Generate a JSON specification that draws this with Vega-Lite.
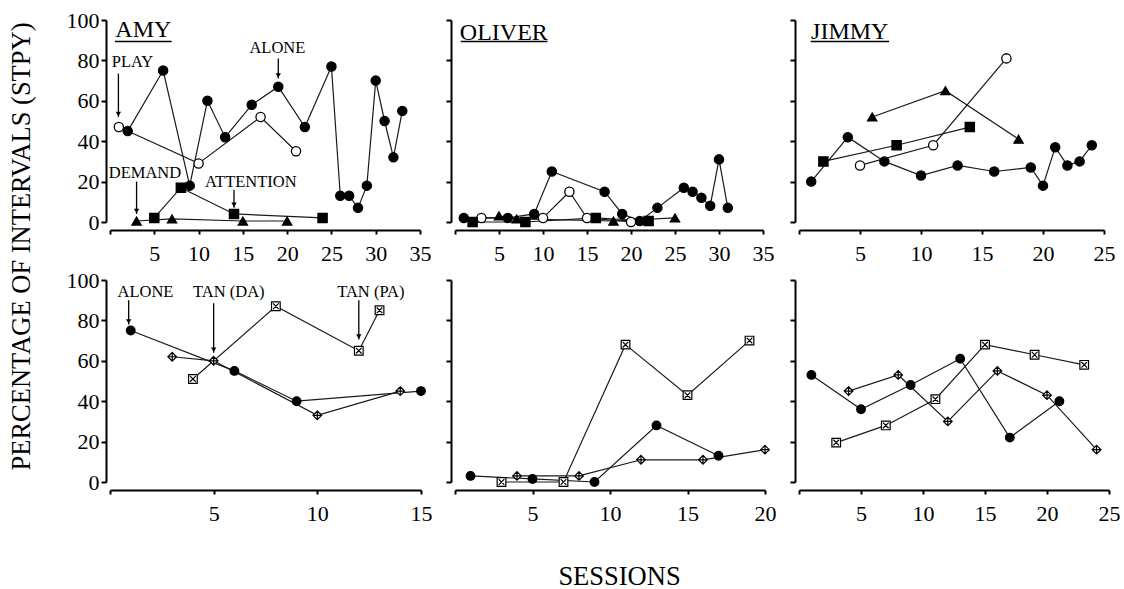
{
  "$schema": "https://vega.github.io/schema/vega-lite/v6.json",
  "padding": {"left": 7, "top": 9, "right": 0, "bottom": 0},
  "background": "white",
  "config": {
    "view": {"stroke": null},
    "font": "Liberation Serif",
    "axis": {"domainColor": "black", "domainWidth": 2, "tickColor": "black", "tickWidth": 2, "labelColor": "black", "labelFont": "Liberation Serif", "labelFontSize": 22, "grid": false, "titleFont": "Liberation Serif", "titleFontWeight": "normal", "titleColor": "black", "titleFontSize": 26.5, "labelFlush": false},
    "axisX": {"offset": 8, "tickSize": 4, "labelPadding": 9},
    "axisY": {"offset": 4, "tickSize": 5, "labelPadding": 2},
    "text": {"font": "Liberation Serif", "color": "black"}
  },
  "datasets": {
    "obs": [
      {"panel":"amy_top","cond":"alone","session":2,"pct":45},
      {"panel":"amy_top","cond":"alone","session":6,"pct":75},
      {"panel":"amy_top","cond":"alone","session":9,"pct":18},
      {"panel":"amy_top","cond":"alone","session":11,"pct":60},
      {"panel":"amy_top","cond":"alone","session":13,"pct":42},
      {"panel":"amy_top","cond":"alone","session":16,"pct":58},
      {"panel":"amy_top","cond":"alone","session":19,"pct":67},
      {"panel":"amy_top","cond":"alone","session":22,"pct":47},
      {"panel":"amy_top","cond":"alone","session":25,"pct":77},
      {"panel":"amy_top","cond":"alone","session":26,"pct":13},
      {"panel":"amy_top","cond":"alone","session":27,"pct":13},
      {"panel":"amy_top","cond":"alone","session":28,"pct":7},
      {"panel":"amy_top","cond":"alone","session":29,"pct":18},
      {"panel":"amy_top","cond":"alone","session":30,"pct":70},
      {"panel":"amy_top","cond":"alone","session":31,"pct":50},
      {"panel":"amy_top","cond":"alone","session":32,"pct":32},
      {"panel":"amy_top","cond":"alone","session":33,"pct":55},
      {"panel":"amy_top","cond":"play","session":1,"pct":47},
      {"panel":"amy_top","cond":"play","session":10,"pct":29},
      {"panel":"amy_top","cond":"play","session":17,"pct":52},
      {"panel":"amy_top","cond":"play","session":21,"pct":35},
      {"panel":"amy_top","cond":"demand","session":3,"pct":0.5},
      {"panel":"amy_top","cond":"demand","session":7,"pct":1.5},
      {"panel":"amy_top","cond":"demand","session":15,"pct":0.5},
      {"panel":"amy_top","cond":"demand","session":20,"pct":0.5},
      {"panel":"amy_top","cond":"attention","session":5,"pct":2},
      {"panel":"amy_top","cond":"attention","session":8,"pct":17},
      {"panel":"amy_top","cond":"attention","session":14,"pct":4},
      {"panel":"amy_top","cond":"attention","session":24,"pct":2},

      {"panel":"oliver_top","cond":"alone","session":1,"pct":2},
      {"panel":"oliver_top","cond":"alone","session":6,"pct":2},
      {"panel":"oliver_top","cond":"alone","session":9,"pct":4},
      {"panel":"oliver_top","cond":"alone","session":11,"pct":25},
      {"panel":"oliver_top","cond":"alone","session":17,"pct":15},
      {"panel":"oliver_top","cond":"alone","session":19,"pct":4},
      {"panel":"oliver_top","cond":"alone","session":21,"pct":0.5},
      {"panel":"oliver_top","cond":"alone","session":23,"pct":7},
      {"panel":"oliver_top","cond":"alone","session":26,"pct":17},
      {"panel":"oliver_top","cond":"alone","session":27,"pct":15},
      {"panel":"oliver_top","cond":"alone","session":28,"pct":12},
      {"panel":"oliver_top","cond":"alone","session":29,"pct":8},
      {"panel":"oliver_top","cond":"alone","session":30,"pct":31},
      {"panel":"oliver_top","cond":"alone","session":31,"pct":7},
      {"panel":"oliver_top","cond":"play","session":3,"pct":2},
      {"panel":"oliver_top","cond":"play","session":10,"pct":2},
      {"panel":"oliver_top","cond":"play","session":13,"pct":15},
      {"panel":"oliver_top","cond":"play","session":15,"pct":2},
      {"panel":"oliver_top","cond":"play","session":20,"pct":0},
      {"panel":"oliver_top","cond":"demand","session":5,"pct":3},
      {"panel":"oliver_top","cond":"demand","session":7,"pct":1.5},
      {"panel":"oliver_top","cond":"demand","session":18,"pct":0.5},
      {"panel":"oliver_top","cond":"demand","session":25,"pct":2},
      {"panel":"oliver_top","cond":"attention","session":2,"pct":0},
      {"panel":"oliver_top","cond":"attention","session":8,"pct":0},
      {"panel":"oliver_top","cond":"attention","session":16,"pct":2},
      {"panel":"oliver_top","cond":"attention","session":22,"pct":0.5},

      {"panel":"jimmy_top","cond":"alone","session":1,"pct":20},
      {"panel":"jimmy_top","cond":"alone","session":4,"pct":42},
      {"panel":"jimmy_top","cond":"alone","session":7,"pct":30},
      {"panel":"jimmy_top","cond":"alone","session":10,"pct":23},
      {"panel":"jimmy_top","cond":"alone","session":13,"pct":28},
      {"panel":"jimmy_top","cond":"alone","session":16,"pct":25},
      {"panel":"jimmy_top","cond":"alone","session":19,"pct":27},
      {"panel":"jimmy_top","cond":"alone","session":20,"pct":18},
      {"panel":"jimmy_top","cond":"alone","session":21,"pct":37},
      {"panel":"jimmy_top","cond":"alone","session":22,"pct":28},
      {"panel":"jimmy_top","cond":"alone","session":23,"pct":30},
      {"panel":"jimmy_top","cond":"alone","session":24,"pct":38},
      {"panel":"jimmy_top","cond":"play","session":5,"pct":28},
      {"panel":"jimmy_top","cond":"play","session":11,"pct":38},
      {"panel":"jimmy_top","cond":"play","session":17,"pct":81},
      {"panel":"jimmy_top","cond":"demand","session":6,"pct":52},
      {"panel":"jimmy_top","cond":"demand","session":12,"pct":65},
      {"panel":"jimmy_top","cond":"demand","session":18,"pct":41},
      {"panel":"jimmy_top","cond":"attention","session":2,"pct":30},
      {"panel":"jimmy_top","cond":"attention","session":8,"pct":38},
      {"panel":"jimmy_top","cond":"attention","session":14,"pct":47},

      {"panel":"amy_bot","cond":"alone","session":1,"pct":75},
      {"panel":"amy_bot","cond":"alone","session":6,"pct":55},
      {"panel":"amy_bot","cond":"alone","session":9,"pct":40},
      {"panel":"amy_bot","cond":"alone","session":15,"pct":45},
      {"panel":"amy_bot","cond":"tan_da","session":3,"pct":62},
      {"panel":"amy_bot","cond":"tan_da","session":5,"pct":60},
      {"panel":"amy_bot","cond":"tan_da","session":10,"pct":33},
      {"panel":"amy_bot","cond":"tan_da","session":14,"pct":45},
      {"panel":"amy_bot","cond":"tan_pa","session":4,"pct":51},
      {"panel":"amy_bot","cond":"tan_pa","session":8,"pct":87},
      {"panel":"amy_bot","cond":"tan_pa","session":12,"pct":65},
      {"panel":"amy_bot","cond":"tan_pa","session":13,"pct":85},

      {"panel":"oliver_bot","cond":"alone","session":1,"pct":3},
      {"panel":"oliver_bot","cond":"alone","session":5,"pct":1.5},
      {"panel":"oliver_bot","cond":"alone","session":9,"pct":0},
      {"panel":"oliver_bot","cond":"alone","session":13,"pct":28},
      {"panel":"oliver_bot","cond":"alone","session":17,"pct":13},
      {"panel":"oliver_bot","cond":"tan_da","session":4,"pct":3},
      {"panel":"oliver_bot","cond":"tan_da","session":8,"pct":3},
      {"panel":"oliver_bot","cond":"tan_da","session":12,"pct":11},
      {"panel":"oliver_bot","cond":"tan_da","session":16,"pct":11},
      {"panel":"oliver_bot","cond":"tan_da","session":20,"pct":16},
      {"panel":"oliver_bot","cond":"tan_pa","session":3,"pct":0},
      {"panel":"oliver_bot","cond":"tan_pa","session":7,"pct":0},
      {"panel":"oliver_bot","cond":"tan_pa","session":11,"pct":68},
      {"panel":"oliver_bot","cond":"tan_pa","session":15,"pct":43},
      {"panel":"oliver_bot","cond":"tan_pa","session":19,"pct":70},

      {"panel":"jimmy_bot","cond":"alone","session":1,"pct":53},
      {"panel":"jimmy_bot","cond":"alone","session":5,"pct":36},
      {"panel":"jimmy_bot","cond":"alone","session":9,"pct":48},
      {"panel":"jimmy_bot","cond":"alone","session":13,"pct":61},
      {"panel":"jimmy_bot","cond":"alone","session":17,"pct":22},
      {"panel":"jimmy_bot","cond":"alone","session":21,"pct":40},
      {"panel":"jimmy_bot","cond":"tan_da","session":4,"pct":45},
      {"panel":"jimmy_bot","cond":"tan_da","session":8,"pct":53},
      {"panel":"jimmy_bot","cond":"tan_da","session":12,"pct":30},
      {"panel":"jimmy_bot","cond":"tan_da","session":16,"pct":55},
      {"panel":"jimmy_bot","cond":"tan_da","session":20,"pct":43},
      {"panel":"jimmy_bot","cond":"tan_da","session":24,"pct":16},
      {"panel":"jimmy_bot","cond":"tan_pa","session":3,"pct":19.5},
      {"panel":"jimmy_bot","cond":"tan_pa","session":7,"pct":28},
      {"panel":"jimmy_bot","cond":"tan_pa","session":11,"pct":41},
      {"panel":"jimmy_bot","cond":"tan_pa","session":15,"pct":68},
      {"panel":"jimmy_bot","cond":"tan_pa","session":19,"pct":63},
      {"panel":"jimmy_bot","cond":"tan_pa","session":23,"pct":58}
    ],
    "notes": [
      {"panel":"amy_top","text":"PLAY","session":2.54,"pct":79},
      {"panel":"amy_top","text":"ALONE","session":18.9,"pct":86},
      {"panel":"amy_top","text":"DEMAND","session":3.95,"pct":24.5},
      {"panel":"amy_top","text":"ATTENTION","session":15.9,"pct":19.6},
      {"panel":"amy_bot","text":"ALONE","session":1.71,"pct":94},
      {"panel":"amy_bot","text":"TAN (DA)","session":5.73,"pct":94},
      {"panel":"amy_bot","text":"TAN (PA)","session":12.58,"pct":94}
    ],
    "names": [
      {"panel":"amy_top","text":"AMY","session":3.76,"pct":95},
      {"panel":"oliver_top","text":"OLIVER","session":5.55,"pct":93.7},
      {"panel":"jimmy_top","text":"JIMMY","session":4.16,"pct":94.2}
    ],
    "underlines": [
      {"panel":"amy_top","session":0.56,"session_end":6.96,"pct":89.3},
      {"panel":"oliver_top","session":0.65,"session_end":10.5,"pct":89.3},
      {"panel":"jimmy_top","session":0.96,"session_end":7.38,"pct":89.3}
    ],
    "arrows": [
      {"panel":"amy_top","session":0.95,"pct":52,"top":73.5},
      {"panel":"amy_top","session":19,"pct":71,"top":81},
      {"panel":"amy_top","session":3,"pct":4,"top":20},
      {"panel":"amy_top","session":14,"pct":7,"top":16},
      {"panel":"amy_bot","session":0.9,"pct":78,"top":90},
      {"panel":"amy_bot","session":5,"pct":64,"top":88.5},
      {"panel":"amy_bot","session":12,"pct":70.5,"top":90}
    ]
  },
  "columns": 3,
  "spacing": {"row": 58, "column": 34},
  "bounds": "flush",
  "align": "each",
  "concat": [
    {
      "width": 310, "height": 202,
      "encoding": {
        "x": {"field": "session", "type": "quantitative", "scale": {"domain": [0, 35], "nice": false, "zero": false}, "axis": {"values": [0,5,10,15,20,25,30,35], "labelExpr": "datum.value == 0 ? '' : datum.label"}, "title": null},
        "y": {"field": "pct", "type": "quantitative", "scale": {"domain": [0, 100], "nice": false}, "axis": {"values": [0,20,40,60,80,100], "titleX": -85, "titleY": 226, "titleBaseline": "middle", "titleAngle": -90, "titleAlign": "center"}, "title": "PERCENTAGE OF INTERVALS (STPY)"}
      },
      "layer": [
        {"data": {"name": "obs"}, "transform": [{"filter": "datum.panel == 'amy_top'"}], "mark": {"type": "line", "color": "#1a1a1a", "strokeWidth": 1.2}, "encoding": {"detail": {"field": "cond"}}},
        {"data": {"name": "obs"}, "transform": [{"filter": "datum.panel == 'amy_top'"}], "mark": {"type": "point", "filled": true, "stroke": "black", "strokeWidth": 1.3, "opacity": 1, "size": 85},
         "encoding": {
           "shape": {"field": "cond", "scale": {"domain": ["alone","play","demand","attention","tan_da","tan_pa"], "range": ["circle","circle","triangle-up","square","M0,-1L1,0L0,1L-1,0Z M0,-1L0,1 M-1,0L1,0","M-1,-1H1V1H-1Z M-0.65,-0.65L0.65,0.65 M0.65,-0.65L-0.65,0.65"]}, "legend": null},
           "fill": {"field": "cond", "scale": {"domain": ["alone","play","demand","attention","tan_da","tan_pa"], "range": ["black","white","black","black","white","white"]}, "legend": null}
         }},
        {"data": {"name": "arrows"}, "transform": [{"filter": "datum.panel == 'amy_top'"}], "mark": {"type": "rule", "color": "black", "strokeWidth": 1.3}, "encoding": {"y2": {"field": "top"}}},
        {"data": {"name": "arrows"}, "transform": [{"filter": "datum.panel == 'amy_top'"}], "mark": {"type": "point", "shape": "triangle-down", "filled": true, "color": "black", "opacity": 1, "size": 28, "yOffset": -3}},
        {"data": {"name": "notes"}, "transform": [{"filter": "datum.panel == 'amy_top'"}], "mark": {"type": "text", "fontSize": 16.5, "baseline": "middle"}, "encoding": {"text": {"field": "text"}}},
        {"data": {"name": "names"}, "transform": [{"filter": "datum.panel == 'amy_top'"}], "mark": {"type": "text", "fontSize": 24, "baseline": "middle"}, "encoding": {"text": {"field": "text"}}},
        {"data": {"name": "underlines"}, "transform": [{"filter": "datum.panel == 'amy_top'"}], "mark": {"type": "rule", "color": "black", "strokeWidth": 1.5}, "encoding": {"x2": {"field": "session_end"}}}
      ]
    },
    {
      "width": 308, "height": 202,
      "encoding": {
        "x": {"field": "session", "type": "quantitative", "scale": {"domain": [0, 35], "nice": false, "zero": false}, "axis": {"values": [0,5,10,15,20,25,30,35], "labelExpr": "datum.value == 0 ? '' : datum.label"}, "title": null},
        "y": {"field": "pct", "type": "quantitative", "scale": {"domain": [0, 100], "nice": false}, "axis": {"values": [0,20,40,60,80,100], "labels": false}, "title": null}
      },
      "layer": [
        {"data": {"name": "obs"}, "transform": [{"filter": "datum.panel == 'oliver_top'"}], "mark": {"type": "line", "color": "#1a1a1a", "strokeWidth": 1.2}, "encoding": {"detail": {"field": "cond"}}},
        {"data": {"name": "obs"}, "transform": [{"filter": "datum.panel == 'oliver_top'"}], "mark": {"type": "point", "filled": true, "stroke": "black", "strokeWidth": 1.3, "opacity": 1, "size": 85},
         "encoding": {
           "shape": {"field": "cond", "scale": {"domain": ["alone","play","demand","attention","tan_da","tan_pa"], "range": ["circle","circle","triangle-up","square","M0,-1L1,0L0,1L-1,0Z M0,-1L0,1 M-1,0L1,0","M-1,-1H1V1H-1Z M-0.65,-0.65L0.65,0.65 M0.65,-0.65L-0.65,0.65"]}, "legend": null},
           "fill": {"field": "cond", "scale": {"domain": ["alone","play","demand","attention","tan_da","tan_pa"], "range": ["black","white","black","black","white","white"]}, "legend": null}
         }},
        {"data": {"name": "names"}, "transform": [{"filter": "datum.panel == 'oliver_top'"}], "mark": {"type": "text", "fontSize": 24, "baseline": "middle"}, "encoding": {"text": {"field": "text"}}},
        {"data": {"name": "underlines"}, "transform": [{"filter": "datum.panel == 'oliver_top'"}], "mark": {"type": "rule", "color": "black", "strokeWidth": 1.5}, "encoding": {"x2": {"field": "session_end"}}}
      ]
    },
    {
      "width": 305, "height": 202,
      "encoding": {
        "x": {"field": "session", "type": "quantitative", "scale": {"domain": [0, 25], "nice": false, "zero": false}, "axis": {"values": [0,5,10,15,20,25], "labelExpr": "datum.value == 0 ? '' : datum.label"}, "title": null},
        "y": {"field": "pct", "type": "quantitative", "scale": {"domain": [0, 100], "nice": false}, "axis": {"values": [0,20,40,60,80,100], "labels": false}, "title": null}
      },
      "layer": [
        {"data": {"name": "obs"}, "transform": [{"filter": "datum.panel == 'jimmy_top'"}], "mark": {"type": "line", "color": "#1a1a1a", "strokeWidth": 1.2}, "encoding": {"detail": {"field": "cond"}}},
        {"data": {"name": "obs"}, "transform": [{"filter": "datum.panel == 'jimmy_top'"}], "mark": {"type": "point", "filled": true, "stroke": "black", "strokeWidth": 1.3, "opacity": 1, "size": 85},
         "encoding": {
           "shape": {"field": "cond", "scale": {"domain": ["alone","play","demand","attention","tan_da","tan_pa"], "range": ["circle","circle","triangle-up","square","M0,-1L1,0L0,1L-1,0Z M0,-1L0,1 M-1,0L1,0","M-1,-1H1V1H-1Z M-0.65,-0.65L0.65,0.65 M0.65,-0.65L-0.65,0.65"]}, "legend": null},
           "fill": {"field": "cond", "scale": {"domain": ["alone","play","demand","attention","tan_da","tan_pa"], "range": ["black","white","black","black","white","white"]}, "legend": null}
         }},
        {"data": {"name": "names"}, "transform": [{"filter": "datum.panel == 'jimmy_top'"}], "mark": {"type": "text", "fontSize": 24, "baseline": "middle"}, "encoding": {"text": {"field": "text"}}},
        {"data": {"name": "underlines"}, "transform": [{"filter": "datum.panel == 'jimmy_top'"}], "mark": {"type": "rule", "color": "black", "strokeWidth": 1.5}, "encoding": {"x2": {"field": "session_end"}}}
      ]
    },
    {
      "width": 311, "height": 202,
      "encoding": {
        "x": {"field": "session", "type": "quantitative", "scale": {"domain": [0, 15], "nice": false, "zero": false}, "axis": {"values": [0,5,10,15], "labelExpr": "datum.value == 0 ? '' : datum.label"}, "title": null},
        "y": {"field": "pct", "type": "quantitative", "scale": {"domain": [0, 100], "nice": false}, "axis": {"values": [0,20,40,60,80,100]}, "title": null}
      },
      "layer": [
        {"data": {"name": "obs"}, "transform": [{"filter": "datum.panel == 'amy_bot'"}], "mark": {"type": "line", "color": "#1a1a1a", "strokeWidth": 1.2}, "encoding": {"detail": {"field": "cond"}}},
        {"data": {"name": "obs"}, "transform": [{"filter": "datum.panel == 'amy_bot'"}], "mark": {"type": "point", "filled": true, "stroke": "black", "strokeWidth": 1.2, "opacity": 1, "size": 75},
         "encoding": {
           "shape": {"field": "cond", "scale": {"domain": ["alone","play","demand","attention","tan_da","tan_pa"], "range": ["circle","circle","triangle-up","square","M0,-1L1,0L0,1L-1,0Z M0,-1L0,1 M-1,0L1,0","M-1,-1H1V1H-1Z M-0.65,-0.65L0.65,0.65 M0.65,-0.65L-0.65,0.65"]}, "legend": null},
           "fill": {"field": "cond", "scale": {"domain": ["alone","play","demand","attention","tan_da","tan_pa"], "range": ["black","white","black","black","white","white"]}, "legend": null}
         }},
        {"data": {"name": "arrows"}, "transform": [{"filter": "datum.panel == 'amy_bot'"}], "mark": {"type": "rule", "color": "black", "strokeWidth": 1.3}, "encoding": {"y2": {"field": "top"}}},
        {"data": {"name": "arrows"}, "transform": [{"filter": "datum.panel == 'amy_bot'"}], "mark": {"type": "point", "shape": "triangle-down", "filled": true, "color": "black", "opacity": 1, "size": 28, "yOffset": -3}},
        {"data": {"name": "notes"}, "transform": [{"filter": "datum.panel == 'amy_bot'"}], "mark": {"type": "text", "fontSize": 16.5, "baseline": "middle"}, "encoding": {"text": {"field": "text"}}}
      ]
    },
    {
      "width": 310, "height": 202,
      "encoding": {
        "x": {"field": "session", "type": "quantitative", "scale": {"domain": [0, 20], "nice": false, "zero": false}, "axis": {"values": [0,5,10,15,20], "labelExpr": "datum.value == 0 ? '' : datum.label", "titleX": 164, "titleY": 86, "titleBaseline": "middle"}, "title": "SESSIONS"},
        "y": {"field": "pct", "type": "quantitative", "scale": {"domain": [0, 100], "nice": false}, "axis": {"values": [0,20,40,60,80,100], "labels": false}, "title": null}
      },
      "layer": [
        {"data": {"name": "obs"}, "transform": [{"filter": "datum.panel == 'oliver_bot'"}], "mark": {"type": "line", "color": "#1a1a1a", "strokeWidth": 1.2}, "encoding": {"detail": {"field": "cond"}}},
        {"data": {"name": "obs"}, "transform": [{"filter": "datum.panel == 'oliver_bot'"}], "mark": {"type": "point", "filled": true, "stroke": "black", "strokeWidth": 1.2, "opacity": 1, "size": 75},
         "encoding": {
           "shape": {"field": "cond", "scale": {"domain": ["alone","play","demand","attention","tan_da","tan_pa"], "range": ["circle","circle","triangle-up","square","M0,-1L1,0L0,1L-1,0Z M0,-1L0,1 M-1,0L1,0","M-1,-1H1V1H-1Z M-0.65,-0.65L0.65,0.65 M0.65,-0.65L-0.65,0.65"]}, "legend": null},
           "fill": {"field": "cond", "scale": {"domain": ["alone","play","demand","attention","tan_da","tan_pa"], "range": ["black","white","black","black","white","white"]}, "legend": null}
         }}
      ]
    },
    {
      "width": 310, "height": 202,
      "encoding": {
        "x": {"field": "session", "type": "quantitative", "scale": {"domain": [0, 25], "nice": false, "zero": false}, "axis": {"values": [0,5,10,15,20,25], "labelExpr": "datum.value == 0 ? '' : datum.label"}, "title": null},
        "y": {"field": "pct", "type": "quantitative", "scale": {"domain": [0, 100], "nice": false}, "axis": {"values": [0,20,40,60,80,100], "labels": false}, "title": null}
      },
      "layer": [
        {"data": {"name": "obs"}, "transform": [{"filter": "datum.panel == 'jimmy_bot'"}], "mark": {"type": "line", "color": "#1a1a1a", "strokeWidth": 1.2}, "encoding": {"detail": {"field": "cond"}}},
        {"data": {"name": "obs"}, "transform": [{"filter": "datum.panel == 'jimmy_bot'"}], "mark": {"type": "point", "filled": true, "stroke": "black", "strokeWidth": 1.2, "opacity": 1, "size": 75},
         "encoding": {
           "shape": {"field": "cond", "scale": {"domain": ["alone","play","demand","attention","tan_da","tan_pa"], "range": ["circle","circle","triangle-up","square","M0,-1L1,0L0,1L-1,0Z M0,-1L0,1 M-1,0L1,0","M-1,-1H1V1H-1Z M-0.65,-0.65L0.65,0.65 M0.65,-0.65L-0.65,0.65"]}, "legend": null},
           "fill": {"field": "cond", "scale": {"domain": ["alone","play","demand","attention","tan_da","tan_pa"], "range": ["black","white","black","black","white","white"]}, "legend": null}
         }}
      ]
    }
  ]
}
